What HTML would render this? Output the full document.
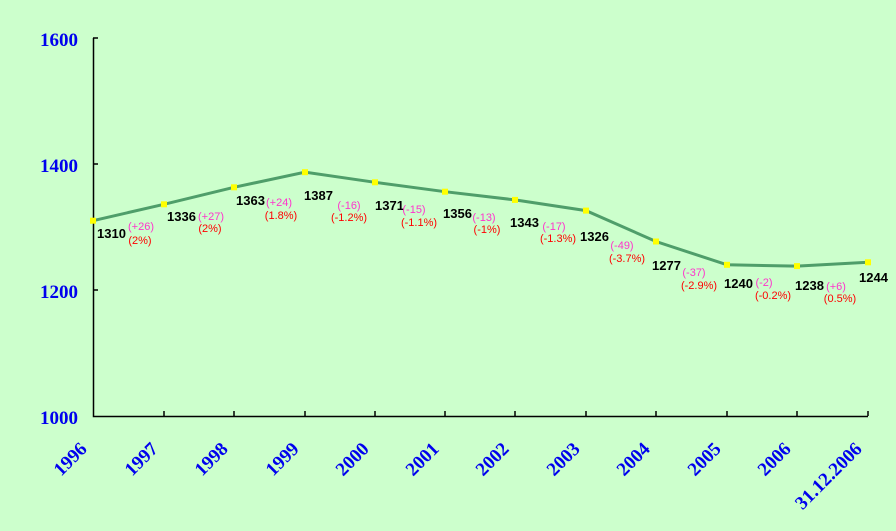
<!DOCTYPE html>
<html><head><meta charset="utf-8"><style>
body{margin:0;background:#ccffcc;}
svg{display:block}
.v{font:bold 13px "Liberation Sans",sans-serif;fill:#000}
.p{font:11px "Liberation Sans",sans-serif;fill:#ff33cc;text-anchor:middle}
.r{font:11px "Liberation Sans",sans-serif;fill:#ff0000;text-anchor:middle}
.y{font:bold 19px "Liberation Serif",serif;fill:#0000ee;text-anchor:end}
.x{font:bold 19px "Liberation Serif",serif;fill:#0000ee;text-anchor:end}
</style></head><body>
<svg width="896" height="531" viewBox="0 0 896 531">
<rect width="896" height="531" fill="#ccffcc"/>
<g stroke="#000" stroke-width="1.5" fill="none">
<path d="M93.5,38V416.5H868"/>
<path d="M93,38h5M93,164h5M93,290h5"/>
<path d="M164,416v-5M234,416v-5M305,416v-5M375,416v-5M445,416v-5M515,416v-5M586,416v-5M656,416v-5M727,416v-5M797,416v-5M868,416v-5"/>
</g>
<g class="y"><text x="78" y="46">1600</text><text x="78" y="172">1400</text><text x="78" y="298">1200</text><text x="78" y="424">1000</text></g>
<g class="x">
<text transform="translate(88,450) rotate(-45)">1996</text>
<text transform="translate(159,450) rotate(-45)">1997</text>
<text transform="translate(229,450) rotate(-45)">1998</text>
<text transform="translate(300,450) rotate(-45)">1999</text>
<text transform="translate(370,450) rotate(-45)">2000</text>
<text transform="translate(440,450) rotate(-45)">2001</text>
<text transform="translate(510,450) rotate(-45)">2002</text>
<text transform="translate(581,450) rotate(-45)">2003</text>
<text transform="translate(651,450) rotate(-45)">2004</text>
<text transform="translate(722,450) rotate(-45)">2005</text>
<text transform="translate(792,450) rotate(-45)">2006</text>
<text transform="translate(863,450) rotate(-45)">31.12.2006</text>
</g>
<polyline fill="none" stroke="#4f9e6a" stroke-width="3" points="93,220.7 164,204.3 234,187.3 305,172.2 375,182.3 445,191.7 515,199.9 586,210.6 656,241.5 727,264.8 797,266.1 868,262.3"/>
<g fill="#ffff00">
<rect x="90" y="217.7" width="6" height="6"/><rect x="161" y="201.3" width="6" height="6"/><rect x="231" y="184.3" width="6" height="6"/><rect x="302" y="169.2" width="6" height="6"/><rect x="372" y="179.3" width="6" height="6"/><rect x="442" y="188.7" width="6" height="6"/><rect x="512" y="196.9" width="6" height="6"/><rect x="583" y="207.6" width="6" height="6"/><rect x="653" y="238.5" width="6" height="6"/><rect x="724" y="261.8" width="6" height="6"/><rect x="794" y="263.1" width="6" height="6"/><rect x="865" y="259.3" width="6" height="6"/>
</g>
<g class="v">
<text x="97" y="238">1310</text><text x="167" y="221">1336</text><text x="236" y="205">1363</text><text x="304" y="200">1387</text><text x="375" y="210">1371</text><text x="443" y="218">1356</text><text x="510" y="227">1343</text><text x="580" y="241">1326</text><text x="652" y="270">1277</text><text x="724" y="288">1240</text><text x="795" y="290">1238</text><text x="859" y="282">1244</text>
</g>
<g class="p">
<text x="141" y="230">(+26)</text><text x="211" y="220">(+27)</text><text x="279" y="206">(+24)</text><text x="349" y="209">(-16)</text><text x="414" y="213">(-15)</text><text x="484" y="221">(-13)</text><text x="554" y="230">(-17)</text><text x="622" y="249">(-49)</text><text x="694" y="276">(-37)</text><text x="764" y="286">(-2)</text><text x="836" y="290">(+6)</text>
</g>
<g class="r">
<text x="140" y="244">(2%)</text><text x="210" y="232">(2%)</text><text x="281" y="219">(1.8%)</text><text x="349" y="221">(-1.2%)</text><text x="419" y="226">(-1.1%)</text><text x="487" y="233">(-1%)</text><text x="558" y="242">(-1.3%)</text><text x="627" y="262">(-3.7%)</text><text x="699" y="289">(-2.9%)</text><text x="773" y="299">(-0.2%)</text><text x="840" y="302">(0.5%)</text>
</g>
</svg>
</body></html>
